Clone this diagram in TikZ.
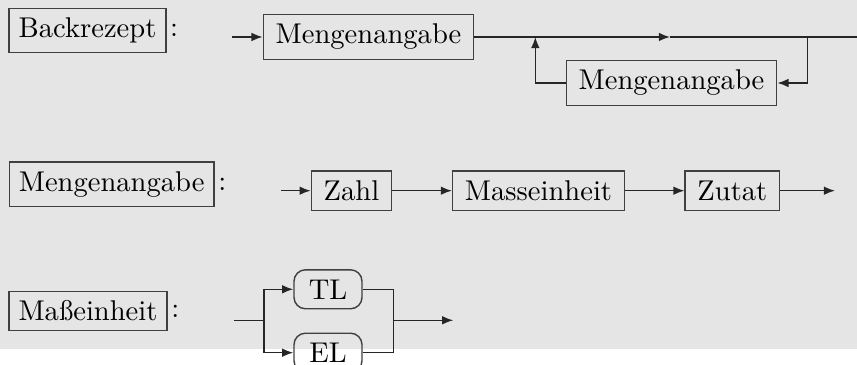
\documentclass[tikz,border=0pt]{standalone}
\usetikzlibrary{arrows.meta}
\begin{document}
\begin{tikzpicture}[x=0.35pt,y=-0.35pt,
  line width=0.5pt,
  lbl/.style={draw=black!75,inner sep=3.33pt},
  colon/.style={anchor=west,inner sep=1pt},
  sbox/.style={draw=black!75,inner xsep=4.3pt,inner ysep=3.4pt},
  tbox/.style={draw=black!75,rounded corners=4pt,minimum width=23.8pt,inner ysep=3.4pt},
  arr/.style={-{Latex[length=3.9pt,width=3pt]}},
  ln/.style={draw=black!85}]
\fill[gray!20] (0,0) rectangle (857,349.3);
\useasboundingbox (0,0) rectangle (857,365);

% Row 1
\node[lbl] (L1) at (87.5,30.5) {Backrezept};
\node[colon] (C1) at (L1.east) {:};
\coordinate (s1) at (232,37);
\node[sbox] (m1) at (368.5,37) {Mengenangabe};
\node[sbox] (m2) at (671.5,83) {Mengenangabe};
\coordinate (a1) at (670,37);
\coordinate (e1) at (857,37);
\coordinate (r1) at (807.7,37);
\coordinate (l1) at (535.3,37);
\draw[ln,arr] (s1) -- (m1);
\draw[ln,arr] (m1) -- (a1);
\draw[ln] (a1) -- (e1);
\draw[ln,arr] (r1) |- (m2);
\draw[ln,arr] (m2) -| (l1);

% Row 2
\node[lbl] (L2) at (111.7,184.2) {Mengenangabe};
\node[colon] (C2) at (L2.east) {:};
\coordinate (s2) at (281,190.7);
\node[sbox] (z) at (351.5,190.7) {Zahl};
\node[sbox] (me) at (538.5,190.7) {Masseinheit};
\node[sbox] (zu) at (732.4,190.7) {Zutat};
\coordinate (e2) at (835,190.7);
\draw[ln,arr] (s2) -- (z);
\draw[ln,arr] (z) -- (me);
\draw[ln,arr] (me) -- (zu);
\draw[ln,arr] (zu) -- (e2);

% Row 3
\node[lbl] (L3) at (88,311) {Maßeinheit};
\node[colon] (C3) at (L3.east) {:};
\coordinate (s3) at (234,320.3);
\coordinate (sp) at (264,320.3);
\node[tbox] (tl) at (328,289.3) {TL};
\node[tbox] (el) at (328,352.7) {EL};
\coordinate (jn) at (393.3,320.3);
\coordinate (e3) at (453.3,320.3);
\draw[ln] (s3) -- (sp);
\draw[ln,arr] (sp) |- (tl);
\draw[ln,arr] (sp) |- (el);
\draw[ln] (tl) -| (jn);
\draw[ln] (el) -| (jn);
\draw[ln,arr] (jn) -- (e3);
\end{tikzpicture}
\end{document}
